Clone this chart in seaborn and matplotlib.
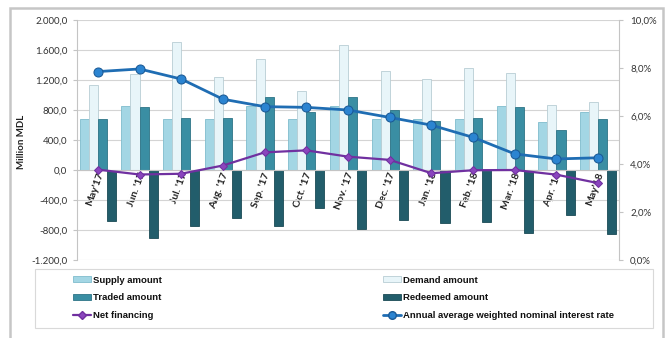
import numpy as np
import pandas as pd
import matplotlib
matplotlib.use("Agg")
import matplotlib.pyplot as plt
import matplotlib.transforms as mtransforms
from matplotlib.patches import Rectangle, Patch
from matplotlib.lines import Line2D
from matplotlib.ticker import FuncFormatter, MultipleLocator, FixedLocator
import seaborn as sns

# Monthly auction results, million MDL, and the average rate in %
months = ["May'17", "Jun. '17", "Jul. '17", "Aug. '17", "Sep. '17", "Oct. '17",
          "Nov. '17", "Dec. '17", "Jan. '18", "Feb. '18", "Mar. '18", "Apr. '18", "May'18"]
supply = [680, 853, 680, 680, 853, 680, 853, 680, 680, 680, 853, 636, 778]
demand = [1133, 1280, 1711, 1244, 1476, 1058, 1667, 1320, 1213, 1356, 1289, 862, 902]
traded = [680, 836, 698, 700, 969, 769, 969, 800, 657, 689, 836, 530, 680]
redeemed = [-676, -907, -747, -636, -747, -507, -791, -667, -700, -690, -836, -600, -853]
net_financing = [5, -60, -50, 60, 235, 262, 178, 135, -43, -3, 0, -62, -175]
interest_rate = [7.85, 7.96, 7.54, 6.70, 6.39, 6.36, 6.25, 5.94, 5.62, 5.11, 4.42, 4.21, 4.26]

bar_series = ["Supply amount", "Demand amount", "Traded amount", "Redeemed amount"]
bar_colors = ["#a3d6e4", "#e8f5f9", "#3a8ea3", "#225d6b"]
bar_edges = ["#7fbccd", "#b8cdd4", "#2d7486", "#1a4a55"]
rate_color = "#1f6db3"
net_color = "#7030a0"
grid_color = "#d4d4d4"
text_color = "#333333"

sns.set_style("white")
plt.rcParams["font.family"] = ["Lato", "DejaVu Sans"]

W, H = 669, 338
fig = plt.figure(figsize=(W / 100, H / 100), dpi=100)
fig.patch.set_facecolor("white")

left, right, top, bottom = 77, 619, 20, 260
ax = fig.add_axes([left / W, 1 - bottom / H, (right - left) / W, (bottom - top) / H])

df = pd.DataFrame({"month": months, "Supply amount": supply, "Demand amount": demand,
                   "Traded amount": traded, "Redeemed amount": redeemed})
long_df = df.melt(id_vars="month", var_name="series", value_name="amount")

sns.barplot(data=long_df, x="month", y="amount", hue="series", order=months,
            hue_order=bar_series, palette=bar_colors, saturation=1, width=0.87,
            dodge=True, ax=ax, legend=False, zorder=2)
for cont, ec in zip(ax.containers, bar_edges):
    for patch in cont:
        patch.set_edgecolor(ec)
        patch.set_linewidth(0.6)

positions = np.arange(len(months))
sns.lineplot(x=positions, y=net_financing, ax=ax, color=net_color, linewidth=1.6,
             marker="D", markersize=4.5, markeredgecolor=net_color,
             markerfacecolor="#8a45bd", legend=False, zorder=5)

ax.set_xlim(-0.5, len(months) - 0.5)
ax.set_ylim(-1200, 2000)
ax.yaxis.set_major_locator(MultipleLocator(400))


def mdl_fmt(v, _):
    s = f"{abs(v):,.1f}".replace(",", " ").replace(".", ",").replace(" ", ".")
    return ("-" if v < 0 else "") + s


ax.yaxis.set_major_formatter(FuncFormatter(mdl_fmt))
ax.yaxis.grid(True, color=grid_color, linewidth=0.8)
ax.set_axisbelow(True)
ax.set_xlabel("")
ax.set_ylabel("")

for side in ["top", "right"]:
    ax.spines[side].set_visible(False)
ax.spines["left"].set_color("#c4c4c4")
ax.spines["bottom"].set_color("#c4c4c4")
ax.spines["bottom"].set_position(("data", 0))

ax.set_xticks(positions)
ax.set_xticklabels(months)
ax.xaxis.set_minor_locator(FixedLocator(np.arange(-0.5, len(months), 1.0)))
ax.tick_params(axis="x", which="major", length=0, pad=2)
ax.tick_params(axis="x", which="minor", length=3.5, color="#c4c4c4", direction="out")
ax.tick_params(axis="y", length=3, color="#c4c4c4", labelsize=7, labelcolor=text_color, pad=4)
shift = mtransforms.ScaledTranslation(3 / 100, 0, fig.dpi_scale_trans)
for lab in ax.get_xticklabels():
    lab.set_rotation(70)
    lab.set_rotation_mode("anchor")
    lab.set_ha("right")
    lab.set_va("center")
    lab.set_fontsize(7.5)
    lab.set_fontweight("bold")
    lab.set_color("#222222")
    lab.set_transform(lab.get_transform() + shift)

ax2 = ax.twinx()
sns.lineplot(x=positions, y=interest_rate, ax=ax2, color=rate_color, linewidth=2,
             marker="o", markersize=6.5, markerfacecolor="#2b84d1",
             markeredgecolor="#1a5a96", legend=False, zorder=6)
ax2.set_ylim(0, 10)
ax2.set_xlim(-0.5, len(months) - 0.5)
ax2.yaxis.set_major_locator(MultipleLocator(2))
ax2.yaxis.set_major_formatter(FuncFormatter(lambda v, _: f"{v:.1f}".replace(".", ",") + "%"))
ax2.set_ylabel("")
for side in ["top", "bottom", "left"]:
    ax2.spines[side].set_visible(False)
ax2.spines["right"].set_color("#c4c4c4")
ax2.tick_params(axis="y", length=3, color="#c4c4c4", labelsize=7, labelcolor=text_color, pad=5)

fig.text(21 / W, 1 - 142 / H, "Million MDL", rotation=90, ha="center", va="center",
         fontsize=7, fontweight="bold", color="#222222")

# Outer chart frame and legend box
fig.add_artist(Rectangle((10 / W, -0.05), (663 - 10) / W, 1.05 - 8 / H,
                         transform=fig.transFigure, fill=False,
                         edgecolor="#c6c6c6", linewidth=1.8))
fig.add_artist(Rectangle((35 / W, 1 - 328 / H), (653 - 35) / W, (328 - 269) / H,
                         transform=fig.transFigure, fill=False,
                         edgecolor="#d9d9d9", linewidth=0.8))

handles = {
    "Supply amount": Patch(facecolor=bar_colors[0], edgecolor=bar_edges[0], linewidth=0.6),
    "Demand amount": Patch(facecolor=bar_colors[1], edgecolor=bar_edges[1], linewidth=0.6),
    "Traded amount": Patch(facecolor=bar_colors[2], edgecolor=bar_edges[2], linewidth=0.6),
    "Redeemed amount": Patch(facecolor=bar_colors[3], edgecolor=bar_edges[3], linewidth=0.6),
    "Net financing": Line2D([], [], color=net_color, linewidth=1.6, marker="D",
                            markersize=4, markerfacecolor="#8a45bd", markeredgecolor=net_color),
    "Annual average weighted nominal interest rate": Line2D(
        [], [], color=rate_color, linewidth=2, marker="o", markersize=5.5,
        markerfacecolor="#2b84d1", markeredgecolor="#1a5a96"),
}
columns = [["Supply amount", "Traded amount", "Net financing"],
           ["Demand amount", "Redeemed amount", "Annual average weighted nominal interest rate"]]
for col, x0 in zip(columns, [73, 383]):
    leg = fig.legend([handles[k] for k in col], col, loc="center left",
                     bbox_to_anchor=(x0 / W, 1 - 298 / H), frameon=False,
                     borderpad=0, borderaxespad=0, handlelength=1.9, handleheight=0.5,
                     handletextpad=0.2, labelspacing=0.95,
                     prop={"family": ["Liberation Sans", "DejaVu Sans"], "weight": "bold", "size": 6.8})
    for t in leg.get_texts():
        t.set_color("#111111")

fig.savefig("out.png", dpi=100, facecolor="white")
